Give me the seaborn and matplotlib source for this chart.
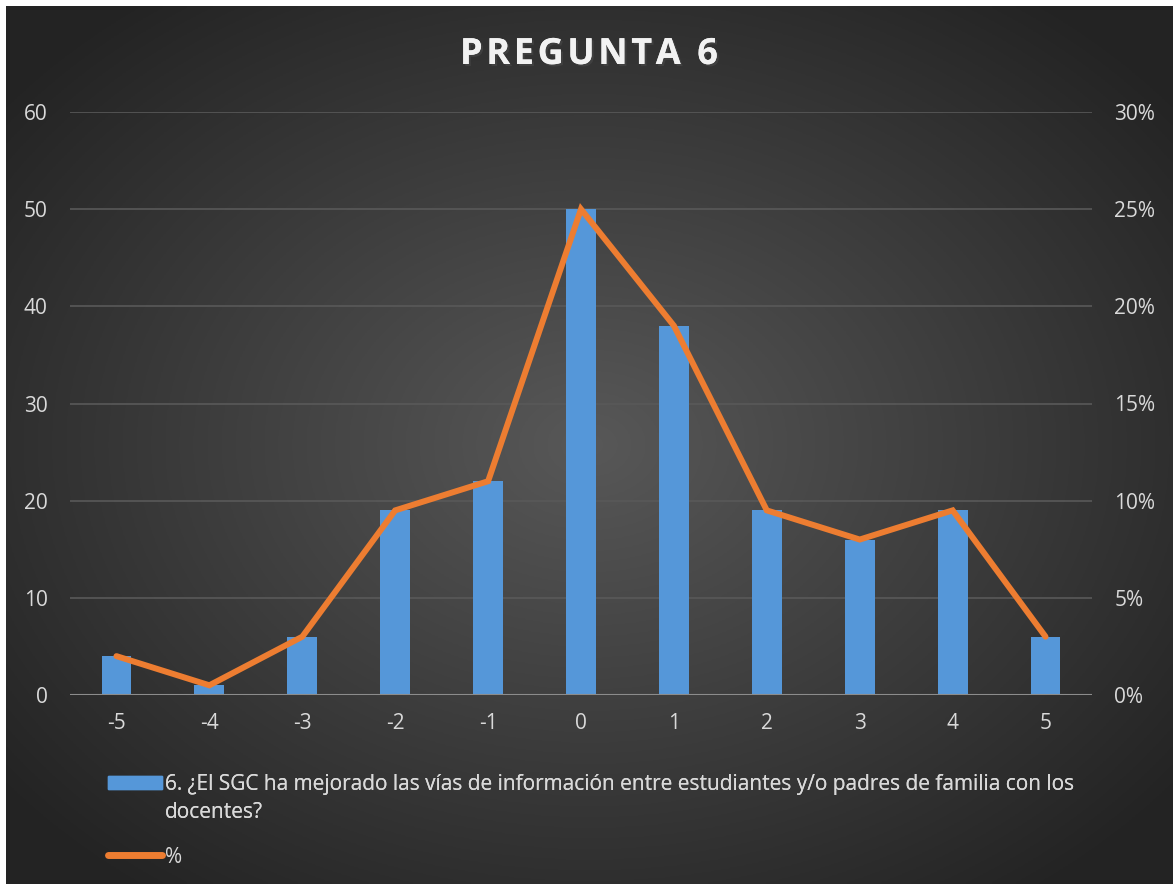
import seaborn as sns
import matplotlib.pyplot as plt
import matplotlib.patheffects as pe
from matplotlib.patches import Patch
from matplotlib.lines import Line2D
import pandas as pd
import numpy as np

# data
categories = ["-5", "-4", "-3", "-2", "-1", "0", "1", "2", "3", "4", "5"]
counts = [4, 1, 6, 19, 22, 50, 38, 19, 16, 19, 6]
percents = [0.02, 0.005, 0.03, 0.095, 0.11, 0.25, 0.19, 0.095, 0.08, 0.095, 0.03]
bar_label = "6. ¿El SGC ha mejorado las vías de información entre estudiantes y/o padres de familia con los"
bar_label2 = "docentes?"
line_label = "%"
title = "PREGUNTA 6"

df = pd.DataFrame({"cat": categories, "n": counts, "pct": percents})

sns.set_style("dark")
plt.rcParams["font.family"] = ["Open Sans", "DejaVu Sans"]

W, H = 1173, 884
fig = plt.figure(figsize=(W / 100, H / 100), dpi=100)
fig.patch.set_facecolor("white")

# radial dark gradient background
bg = fig.add_axes([6 / W, 0, 1 - 6 / W, 1 - 6 / H])
yy, xx = np.mgrid[0:1:300j, 0:1:400j]
r = np.sqrt(((xx - 0.5) / 0.62) ** 2 + ((yy - 0.5) / 0.62) ** 2)
shade = np.clip(0.345 - 0.2 * r, 0.14, 0.35)
bg.imshow(np.dstack([shade] * 3), aspect="auto", extent=[0, 1, 0, 1])
bg.set_axis_off()

txt = "#d9d9d9"
ax = fig.add_axes([70 / W, 1 - 695 / H, (1092 - 70) / W, (695 - 112) / H])
ax.patch.set_alpha(0)
sns.barplot(data=df, x="cat", y="n", color="#5597d9", saturation=1, width=0.32, ax=ax,
            linewidth=0, edgecolor="none", zorder=2)
ax.set_xlim(-0.5, 10.5)
ax.set_ylim(0, 60)
ax.set_yticks(range(0, 61, 10))
ax.set_xlabel("")
ax.set_ylabel("")
ax.grid(axis="y", color="#595959", linewidth=1.2, zorder=0)
ax.grid(axis="x", visible=False)
for s in ax.spines.values():
    s.set_visible(False)
ax.axhline(0, color="#8c8c8c", linewidth=1.5, zorder=3)
ax.tick_params(axis="y", colors=txt, labelsize=15, length=0, pad=16)
ax.tick_params(axis="x", colors=txt, labelsize=15, length=0, pad=13)

ax2 = ax.twinx()
sns.lineplot(x=np.arange(len(categories)), y=df["pct"], color="#ed7d31", linewidth=4.3, ax=ax2,
             solid_joinstyle="miter", solid_capstyle="round", zorder=4)
ax2.set_ylim(0, 0.30)
ax2.set_yticks(np.arange(0, 0.31, 0.05))
ax2.set_yticklabels([f"{int(round(v * 100))}%" for v in np.arange(0, 0.31, 0.05)])
ax2.set_ylabel("")
ax2.grid(False)
for s in ax2.spines.values():
    s.set_visible(False)
ax2.tick_params(axis="y", colors=txt, labelsize=15, length=0, pad=16)

fig.text(589 / W, 1 - 55 / H, "\u200a".join(title), ha="center", va="center", fontsize=26,
         fontweight="bold", color="#f2f2f2",
         path_effects=[pe.withSimplePatchShadow(offset=(1.5, -1.5), alpha=0.6), pe.Normal()])

leg1 = fig.legend([Patch(color="#5597d9"), Line2D([], [], alpha=0)], [bar_label, bar_label2],
                  loc="upper left", bbox_to_anchor=(89 / W, 1 - 755 / H), frameon=False,
                  fontsize=15, labelcolor=txt, handlelength=2.6, handleheight=0.6,
                  handletextpad=0.15, labelspacing=0.35)
fig.add_artist(leg1)
fig.legend([Line2D([], [], color="#ed7d31", linewidth=5, solid_capstyle="round")], [line_label],
           loc="upper left", bbox_to_anchor=(89 / W, 1 - 828 / H), frameon=False,
           fontsize=15, labelcolor=txt, handlelength=2.6, handletextpad=0.15)

plt.savefig("out.png", dpi=100)
plt.close()
